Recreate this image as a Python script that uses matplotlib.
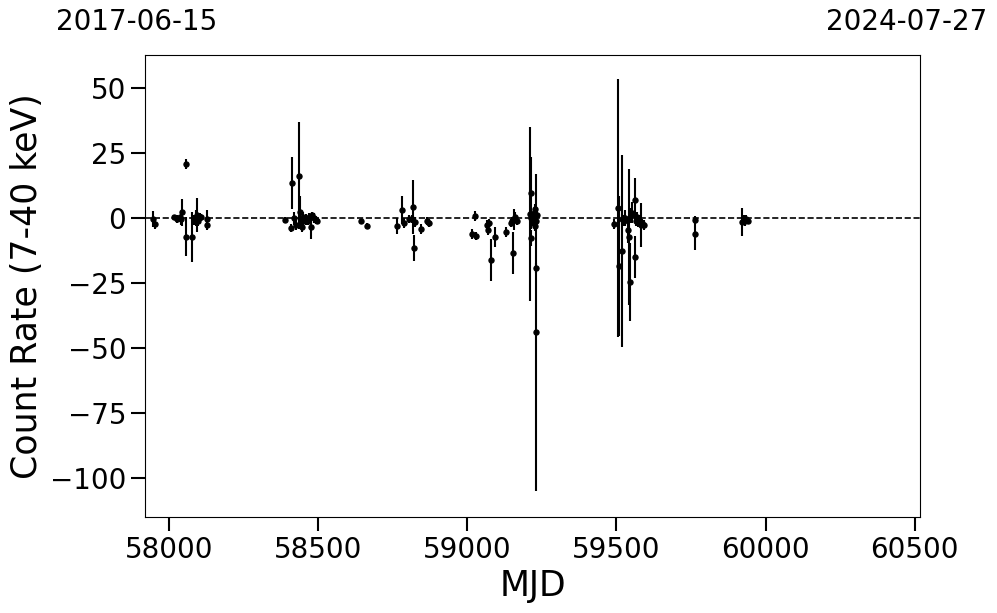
import numpy as np
import matplotlib
matplotlib.use('Agg')
import matplotlib.pyplot as plt

# light curve values
mjd = [57946, 57953, 58017, 58027, 58035, 58040, 58043, 58057, 58055, 58077,
       58084, 58090, 58093, 58098, 58103, 58107, 58127, 58128,
       58389, 58410, 58413, 58420, 58427, 58436, 58440, 58443, 58446, 58450,
       58455, 58460, 58465, 58470, 58476, 58479, 58485, 58493, 58497,
       58643, 58664, 58764, 58781, 58787, 58803, 58813, 58818, 58824, 58822,
       58844, 58864, 58870,
       59016, 59025, 59028, 59066, 59072, 59069, 59079, 59093, 59129, 59146,
       59150, 59153, 59156, 59160, 59165,
       59210, 59213, 59212, 59215, 59218, 59222, 59225, 59227, 59228, 59229,
       59230, 59231, 59233,
       59491, 59505, 59510, 59518, 59520, 59525, 59530, 59541, 59538, 59544,
       59548, 59552, 59562, 59561, 59565, 59568, 59572, 59582, 59576, 59585,
       59592,
       59763, 59764, 59922, 59928, 59932, 59936, 59940]
rate = [-0.4, -2.4, 0.3, -0.3, 0.2, -0.5, 2.3, 20.8, -7.3, -7.3,
        -0.8, 0.0, 1.2, -1.0, 0.5, 0.2, -0.3, -2.7,
        -0.8, -3.8, 13.5, 0.0, -2.7, 16.3, 2.3, -2.0, -3.5, 0.3,
        -0.8, -0.5, -1.0, 0.5, -3.5, 1.0, 0.0, -0.8, -1.0,
        -1.2, -3.0, -3.0, 3.1, -2.0, -0.4, -0.4, 4.2, -1.5, -11.5,
        -4.2, -1.1, -2.0,
        -6.2, 0.8, -7.0, -2.7, -2.0, -4.6, -16.1, -7.3, -5.4, -2.0,
        -1.0, -13.5, -0.5, 0.5, -1.0,
        1.5, 9.6, 0.0, -7.7, -1.0, -2.0, 2.0, -3.0, 3.5, -1.0,
        -44.0, -19.2, 1.0,
        -2.3, 3.8, -18.5, -12.7, -0.5, -1.0, 0.0, -7.3, -4.6, -24.6,
        1.0, 2.0, 6.9, -15.0, -1.0, 0.5, -1.5, -2.7, -1.0, -2.0,
        -2.7,
        -0.8, -6.2, -1.5, -0.5, -1.0, -0.3, -1.0]
err = [3, 2, 1, 1.5, 1, 2, 5.2, 2, 7.5, 9.6,
       2, 3, 6.5, 2, 1.5, 1.5, 3.5, 2,
       1, 1.5, 10, 2.5, 2, 20.5, 6, 2, 2, 2,
       1.5, 2, 1.5, 1.5, 4.5, 1.5, 2, 1.5, 1,
       1, 1, 3, 5.5, 2, 1.5, 1.5, 10.5, 2, 5,
       2, 1.5, 1.5,
       2, 2, 1.5, 2, 1.5, 2, 8, 4, 2, 1.5,
       1.5, 8, 4, 2, 1.5,
       33.5, 14, 2, 3, 2, 2, 2, 2, 2, 2,
       61, 2, 3,
       2, 49.6, 27, 37, 2, 2, 3, 26, 5, 15,
       3, 4, 8.5, 8, 2, 2, 2, 8.5, 2, 1.5,
       2,
       1.5, 6, 5.5, 1.5, 2, 1.5, 1]

start_label = '2017-06-15'
end_label = '2024-07-27'
mjd_start = 57919
mjd_end = 60518

fig = plt.figure(figsize=(9.97, 6.13), dpi=100)
ax = fig.add_axes([0.1454, 0.1566, 0.7774, 0.7537])

ax.errorbar(mjd, rate, yerr=err, fmt='o', color='black', ms=3.6,
            elinewidth=1.5, capsize=0)
ax.axhline(0, color='black', ls='--', lw=1.2)

ax.set_xlim(mjd_start, mjd_end)
ax.set_ylim(-115, 62.7)
ax.set_xticks([58000, 58500, 59000, 59500, 60000, 60500])
ax.set_yticks([50, 25, 0, -25, -50, -75, -100])
ax.tick_params(labelsize=20, length=10, width=1.5)
ax.set_xlabel('MJD', fontsize=25)
ax.set_ylabel('Count Rate (7-40 keV)', fontsize=25)

fig.text(137 / 997, 1 - 22 / 613, start_label, fontsize=20,
         ha='center', va='center')
fig.text(907 / 997, 1 - 22 / 613, end_label, fontsize=20,
         ha='center', va='center')

fig.savefig('out.png', dpi=100)
